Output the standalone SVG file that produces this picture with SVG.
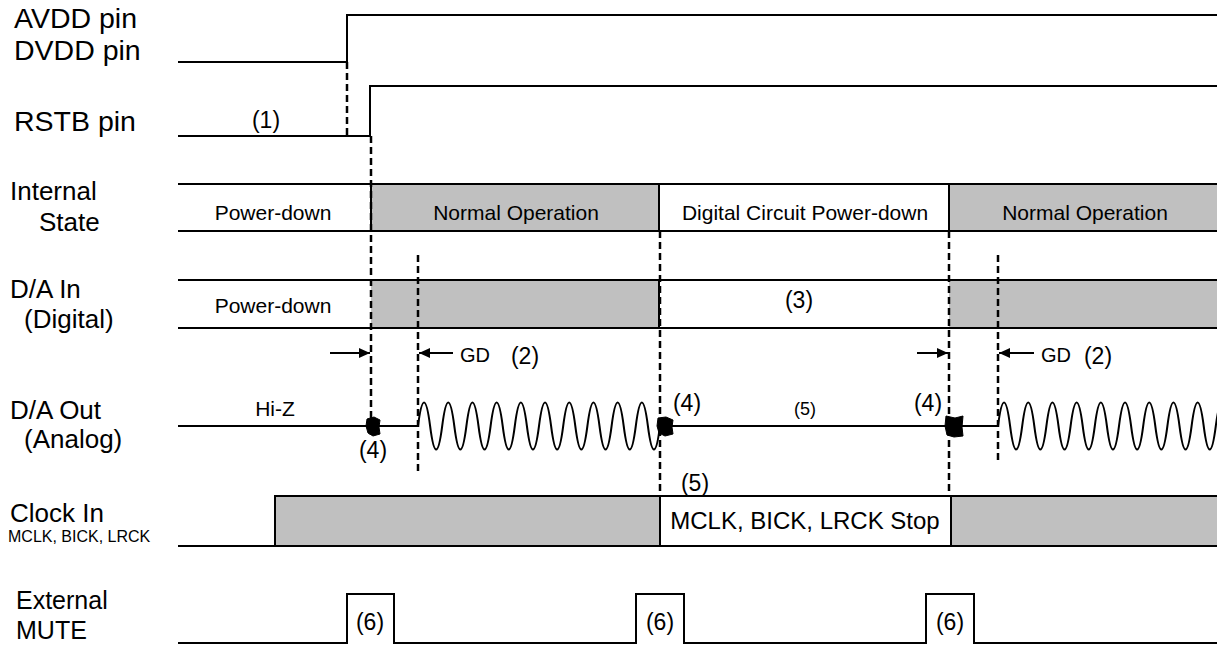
<svg xmlns="http://www.w3.org/2000/svg" width="1217" height="645" viewBox="0 0 1217 645">
<style>
text{font-family:"Liberation Sans",Arial,sans-serif;fill:#000}
.lbl{font-size:26px}
.lbl2{font-size:25px}
.pin{font-size:28.5px}
.in{font-size:21px}
.stop{font-size:24px}
.num{font-size:23px}
.sm{font-size:18px}
.gd{font-size:20px}
.tiny{font-size:16px}
.sig{fill:none;stroke:#000;stroke-width:2}
.gray{fill:#c0c0c0;stroke:none}
.dash{fill:none;stroke:#000;stroke-width:2.5;stroke-dasharray:7 4}
.arr{stroke:#000;stroke-width:2;marker-end:url(#ah)}
.blob{fill:#000;stroke:#000;stroke-width:1}
</style>
<defs>
<marker id="ah" markerUnits="userSpaceOnUse" markerWidth="11" markerHeight="10" refX="11" refY="5" orient="auto">
<path d="M0,0 L11,5 L0,10 Z" fill="#000"/>
</marker>
</defs>
<rect width="1217" height="645" fill="#fff"/>

<g id="avdd">
<text class="pin" x="14" y="28">AVDD pin</text>
<text class="pin" x="14" y="60">DVDD pin</text>
<polyline class="sig" points="178,62 347,62 347,15 1217,15"/>
</g>

<g id="rstb">
<text class="pin" x="14" y="131">RSTB pin</text>
<text class="num" x="266" y="128" text-anchor="middle">(1)</text>
<polyline class="sig" points="178,136 370,136 370,86 1217,86"/>
</g>

<g id="internal-state">
<text class="lbl" x="10" y="200">Internal</text>
<text class="lbl" x="39" y="231">State</text>
<rect class="gray" x="371" y="184" width="288" height="47"/>
<rect class="gray" x="949" y="184" width="268" height="47"/>
<line class="sig" x1="178" y1="184" x2="1217" y2="184"/>
<line class="sig" x1="178" y1="231" x2="1217" y2="231"/>
<line class="sig" x1="371" y1="184" x2="371" y2="231"/>
<line class="sig" x1="659" y1="184" x2="659" y2="231"/>
<line class="sig" x1="949" y1="184" x2="949" y2="231"/>
<text class="in" x="273" y="220" text-anchor="middle">Power-down</text>
<text class="in" x="516" y="220" text-anchor="middle">Normal Operation</text>
<text class="in" x="805" y="220" text-anchor="middle">Digital Circuit Power-down</text>
<text class="in" x="1085" y="220" text-anchor="middle">Normal Operation</text>
</g>

<g id="da-in">
<text class="lbl" x="10" y="298">D/A In</text>
<text class="lbl" x="24" y="328">(Digital)</text>
<rect class="gray" x="371" y="280" width="288" height="48"/>
<rect class="gray" x="949" y="280" width="268" height="48"/>
<line class="sig" x1="178" y1="280" x2="1217" y2="280"/>
<line class="sig" x1="178" y1="328" x2="1217" y2="328"/>
<line class="sig" x1="659" y1="280" x2="659" y2="328"/>
<text class="in" x="273" y="313" text-anchor="middle">Power-down</text>
<text class="num" x="799" y="308" text-anchor="middle">(3)</text>
</g>

<g id="da-out">
<text class="lbl" x="10" y="419">D/A Out</text>
<text class="lbl" x="24" y="448">(Analog)</text>
<line class="sig" x1="178" y1="426" x2="418" y2="426"/>
<line class="sig" x1="660" y1="426" x2="998" y2="426"/>
<path class="sig" d="M418,426 q6.05,-47 12.1,0 t12.1,0 t12.1,0 t12.1,0 t12.1,0 t12.1,0 t12.1,0 t12.1,0 t12.1,0 t12.1,0 t12.1,0 t12.1,0 t12.1,0 t12.1,0 t12.1,0 t12.1,0 t12.1,0 t12.1,0 t12.1,0 t12.1,0"/>
<path class="sig" d="M998,426 q6.05,-47 12.1,0 t12.1,0 t12.1,0 t12.1,0 t12.1,0 t12.1,0 t12.1,0 t12.1,0 t12.1,0 t12.1,0 t12.1,0 t12.1,0 t12.1,0 t12.1,0 t12.1,0 t12.1,0 t12.1,0 t12.1,0 t12.1,0"/>
<path class="blob" d="M367,419 L374,417 L380,420 L379,427 L380,434 L373,436 L368,433 L366,426 Z"/>
<path class="blob" d="M658,418 L666,417 L673,420 L672,427 L673,434 L665,436 L659,433 L657,426 Z"/>
<path class="blob" d="M946,416 L955,418 L963,416 L962,427 L963,436 L954,437 L947,435 L945,426 Z"/>
<text class="in" x="275" y="416" text-anchor="middle">Hi-Z</text>
<text class="num" x="373" y="458" text-anchor="middle">(4)</text>
<text class="num" x="687" y="411" text-anchor="middle">(4)</text>
<text class="num" x="928" y="411" text-anchor="middle">(4)</text>
<text class="sm" x="805" y="415" text-anchor="middle">(5)</text>
<text class="num" x="695" y="491" text-anchor="middle">(5)</text>
</g>

<g id="clock-in">
<text class="lbl" x="10" y="522">Clock In</text>
<text class="tiny" x="8" y="542">MCLK, BICK, LRCK</text>
<rect class="gray" x="275" y="496" width="385" height="50"/>
<rect class="gray" x="951" y="496" width="266" height="50"/>
<polyline class="sig" points="178,546 275,546 275,496 1217,496"/>
<line class="sig" x1="275" y1="546" x2="1217" y2="546"/>
<line class="sig" x1="660" y1="496" x2="660" y2="546"/>
<line class="sig" x1="951" y1="496" x2="951" y2="546"/>
<text class="stop" x="805" y="529" text-anchor="middle">MCLK, BICK, LRCK Stop</text>
</g>

<g id="external-mute">
<text class="lbl2" x="16" y="609">External</text>
<text class="lbl2" x="16" y="639">MUTE</text>
<polyline class="sig" points="178,643 347,643 347,594 394,594 394,643 636,643 636,594 684,594 684,643 926,643 926,594 974,594 974,643 1217,643"/>
<text class="num" x="370" y="630" text-anchor="middle">(6)</text>
<text class="num" x="660" y="630" text-anchor="middle">(6)</text>
<text class="num" x="950" y="630" text-anchor="middle">(6)</text>
</g>

<g id="connectors">
<line class="dash" x1="347" y1="62" x2="347" y2="136"/>
<line class="dash" x1="371" y1="136" x2="371" y2="435"/>
<line class="dash" x1="418" y1="255" x2="418" y2="473"/>
<line class="dash" x1="660" y1="231" x2="660" y2="496"/>
<line class="dash" x1="949" y1="231" x2="949" y2="496"/>
<line class="dash" x1="998" y1="255" x2="998" y2="463"/>
<line class="arr" x1="330" y1="353" x2="370" y2="353"/>
<line class="arr" x1="453" y1="353" x2="419" y2="353"/>
<line class="arr" x1="917" y1="353" x2="948" y2="353"/>
<line class="arr" x1="1034" y1="353" x2="999" y2="353"/>
<text class="gd" x="460" y="362">GD</text>
<text class="num" x="525" y="364" text-anchor="middle">(2)</text>
<text class="gd" x="1041" y="362">GD</text>
<text class="num" x="1098" y="364" text-anchor="middle">(2)</text>
</g>
</svg>
